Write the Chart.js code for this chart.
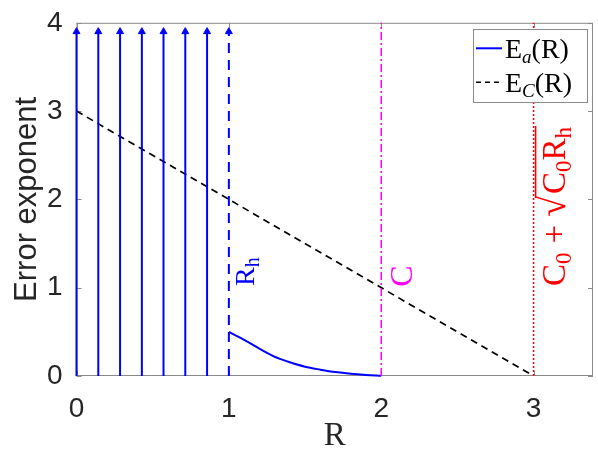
<!DOCTYPE html>
<html><head><meta charset="utf-8">
<script src="https://cdn.jsdelivr.net/npm/chart.js@4.4.0/dist/chart.umd.min.js"></script>
<style>html,body{margin:0;padding:0;background:#fff;} #wrap{width:598px;height:456px;position:relative;}</style>
</head><body><div id="wrap"><canvas id="c"></canvas></div>
<script>
// ---- data ----
const stemX = [0, 0.143, 0.286, 0.429, 0.571, 0.714, 0.857];
const stemTop = 3.9;
const rhX = 1;
const eaR   = [1.0, 1.05, 1.1, 1.15, 1.2, 1.25, 1.3, 1.35, 1.4, 1.5, 1.6, 1.7, 1.8, 1.9, 2.0];
const eaVal = [0.50, 0.455, 0.41, 0.362, 0.31, 0.262, 0.218, 0.185, 0.155, 0.105, 0.072, 0.044, 0.025, 0.012, 0.003];
const ecR   = [0, 3];
const ecVal = [3, 0];
const capC = 2;
const capLimit = 3;
const xTicks = [0, 1, 2, 3];
const yTicks = [0, 1, 2, 3, 4];
const xMax = 3.39;
const yMax = 4;

const BLUE = '#0000ff', MAG = '#ff00ff', RED = '#ff0000';
const SERIF = '"Liberation Serif", "DejaVu Serif", serif';
const SANS = '"Liberation Sans", Arial, sans-serif';

const datasets = [];
stemX.forEach(x => datasets.push({
  data: [{x: x, y: 0}, {x: x, y: stemTop}],
  borderColor: BLUE, backgroundColor: BLUE, borderWidth: 2,
  pointRadius: [0, 4], pointStyle: 'triangle', pointBorderWidth: 1, clip: false
}));
datasets.push({
  data: [{x: rhX, y: 0}, {x: rhX, y: stemTop}],
  borderColor: BLUE, backgroundColor: BLUE, borderWidth: 2, borderDash: [10, 7],
  pointRadius: [0, 4], pointStyle: 'triangle', pointBorderWidth: 1, clip: false
});
datasets.push({
  data: [{x: capC, y: 0}, {x: capC, y: yMax}],
  borderColor: MAG, borderWidth: 1.5, borderDash: [8, 3, 2, 3], pointRadius: 0, clip: false
});
datasets.push({
  data: [{x: capLimit, y: 0}, {x: capLimit, y: yMax}],
  borderColor: RED, borderWidth: 1.5, borderDash: [2, 2], pointRadius: 0, clip: false
});
datasets.push({
  data: ecR.map((r, i) => ({x: r, y: ecVal[i]})),
  borderColor: '#000', borderWidth: 1.7, borderDash: [7, 5], pointRadius: 0
});
datasets.push({
  data: eaR.map((r, i) => ({x: r, y: eaVal[i]})),
  borderColor: BLUE, borderWidth: 2, pointRadius: 0, cubicInterpolationMode: 'monotone', clip: false
});

function drawRich(ctx, parts, x, y) {
  // parts: [text, size, dy, italic]
  let cx = x;
  parts.forEach(p => {
    ctx.font = (p[3] ? 'italic ' : '') + p[1] + 'px ' + SERIF;
    ctx.fillText(p[0], cx, y + (p[2] || 0));
    cx += ctx.measureText(p[0]).width;
  });
  return cx;
}

const boxPlugin = {
  id: 'box',
  beforeDatasetsDraw(chart) {
    const {ctx, chartArea: a, scales} = chart;
    ctx.save();
    ctx.strokeStyle = '#8a8a8a';
    ctx.lineWidth = 1;
    ctx.strokeRect(a.left + 0.5, a.top + 0.5, a.right - a.left - 1, a.bottom - a.top - 1);
    ctx.beginPath();
    xTicks.forEach(v => {
      const px = Math.round(scales.x.getPixelForValue(v)) + 0.5;
      ctx.moveTo(px, a.bottom); ctx.lineTo(px, a.bottom - 5);
      ctx.moveTo(px, a.top); ctx.lineTo(px, a.top + 5);
    });
    yTicks.forEach(v => {
      const py = Math.round(scales.y.getPixelForValue(v)) + 0.5;
      ctx.moveTo(a.left, py); ctx.lineTo(a.left + 5, py);
      ctx.moveTo(a.right, py); ctx.lineTo(a.right - 5, py);
    });
    ctx.stroke();
    ctx.restore();
  },
  afterDatasetsDraw(chart) {
    const {ctx, chartArea: a, scales} = chart;
    const X = scales.x, Y = scales.y;
    ctx.save();
    ctx.textBaseline = 'alphabetic';
    // R_h label
    ctx.save();
    ctx.translate(X.getPixelForValue(rhX) + 25, Y.getPixelForValue(1.02));
    ctx.rotate(-Math.PI / 2);
    ctx.fillStyle = BLUE;
    drawRich(ctx, [['R', 28, 0], ['h', 20, 5]], 0, 0);
    ctx.restore();
    // C label
    ctx.save();
    ctx.translate(X.getPixelForValue(capC) + 31, Y.getPixelForValue(1.01));
    ctx.rotate(-Math.PI / 2);
    ctx.fillStyle = MAG;
    drawRich(ctx, [['C', 32, 0]], 0, 0);
    ctx.restore();
    // C0 + sqrt(C0 Rh)
    ctx.save();
    ctx.translate(X.getPixelForValue(capLimit) + 31, Y.getPixelForValue(1.02));
    ctx.rotate(-Math.PI / 2);
    ctx.fillStyle = RED; ctx.strokeStyle = RED;
    let u = drawRich(ctx, [['C', 33, 0], ['0', 23, 6]], 0, 0);
    u = drawRich(ctx, [['+', 33, 0]], u + 9, 0);
    u = drawRich(ctx, [['\u221A', 38, 0]], u + 8, 0);
    const u0 = u - 2;
    u = drawRich(ctx, [['C', 33, 0], ['0', 23, 6], ['R', 33, 0], ['h', 23, 6]], u + 2, 0);
    ctx.lineWidth = 1.6;
    ctx.beginPath(); ctx.moveTo(u0, -29); ctx.lineTo(u + 1, -29); ctx.stroke();
    ctx.restore();
    // legend
    const lw = 114, lh = 73;
    const lx = a.right - 6 - lw, ly = a.top + 6.5;
    ctx.fillStyle = '#fff';
    ctx.fillRect(lx, ly, lw, lh);
    ctx.strokeStyle = '#8a8a8a'; ctx.lineWidth = 1;
    ctx.strokeRect(Math.round(lx) + 0.5, Math.round(ly) + 0.5, lw, lh);
    ctx.strokeStyle = BLUE; ctx.lineWidth = 2;
    ctx.beginPath(); ctx.moveTo(lx + 3, ly + 19); ctx.lineTo(lx + 29, ly + 19); ctx.stroke();
    ctx.strokeStyle = '#000'; ctx.lineWidth = 1.5; ctx.setLineDash([5, 4]);
    ctx.beginPath(); ctx.moveTo(lx + 3, ly + 53); ctx.lineTo(lx + 29, ly + 53); ctx.stroke();
    ctx.setLineDash([]);
    ctx.fillStyle = '#000';
    drawRich(ctx, [['E', 28, 0], ['a', 19, 5, true], ['(R)', 28, 0]], lx + 32, ly + 29);
    drawRich(ctx, [['E', 28, 0], ['C', 19, 5, true], ['(R)', 28, 0]], lx + 32, ly + 63);
    ctx.restore();
  }
};

new Chart(document.getElementById('c'), {
  type: 'line',
  data: {datasets},
  plugins: [boxPlugin],
  options: {
    responsive: true, maintainAspectRatio: false, animation: false,
    devicePixelRatio: 1,
    layout: {padding: {top: 12, right: 4, left: 0, bottom: 0}},
    plugins: {legend: {display: false}, tooltip: {enabled: false}},
    scales: {
      x: {
        type: 'linear', min: 0, max: xMax,
        afterFit(s) { s.height = 80; },
        grid: {display: false}, border: {display: false},
        afterBuildTicks(s) { s.ticks = xTicks.map(v => ({value: v})); },
        ticks: {font: {family: SANS, size: 28}, color: '#262626', padding: 8, maxRotation: 0},
        title: {display: true, text: 'R', font: {family: SERIF, size: 33}, color: '#262626', padding: {top: 0, bottom: 0}}
      },
      y: {
        type: 'linear', min: 0, max: yMax,
        afterFit(s) { s.width = 76.5; },
        grid: {display: false}, border: {display: false},
        afterBuildTicks(s) { s.ticks = yTicks.map(v => ({value: v})); },
        ticks: {font: {family: SANS, size: 28}, color: '#262626', padding: 6},
        title: {display: true, text: 'Error exponent', font: {family: SANS, size: 31}, color: '#262626', padding: {top: 9, bottom: 0}}
      }
    }
  }
});
</script>
</body></html>
